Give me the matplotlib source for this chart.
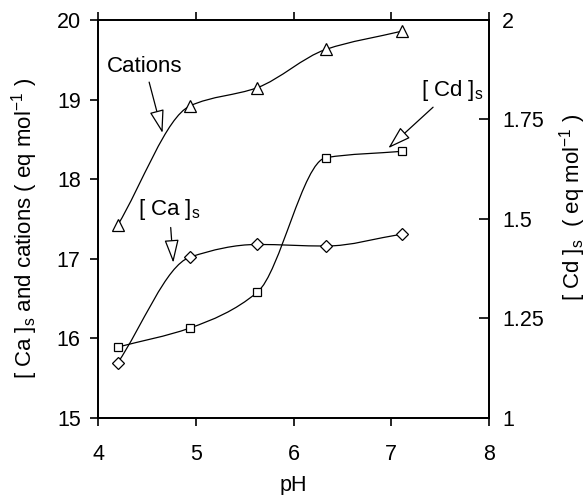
import numpy as np
import matplotlib
matplotlib.use('Agg')
import matplotlib.pyplot as plt
from matplotlib.path import Path
from matplotlib.patches import PathPatch

plt.rcParams['font.family'] = ['Liberation Sans', 'DejaVu Sans']
plt.rcParams['mathtext.fontset'] = 'custom'
plt.rcParams['mathtext.rm'] = 'Liberation Sans'

# values
ph = [4.2, 4.94, 5.63, 6.33, 7.11]
cations = [17.42, 18.92, 19.15, 19.63, 19.86]
ca_s = [15.69, 17.02, 17.18, 17.16, 17.31]
cd_s = [1.178, 1.226, 1.316, 1.654, 1.670]   # right axis

x_ticks = [4, 5, 6, 7, 8]
left_ticks = [15, 16, 17, 18, 19, 20]
right_ticks = [1, 1.25, 1.5, 1.75, 2]
right_labels = ['1', '1.25', '1.5', '1.75', '2']


def smooth_path(x, y):
    # monotone cubic (Fritsch-Carlson) drawn as bezier segments
    x = np.asarray(x, float)
    y = np.asarray(y, float)
    h = np.diff(x)
    d = np.diff(y) / h
    m = np.zeros_like(x)
    m[0], m[-1] = d[0], d[-1]
    for i in range(1, len(x) - 1):
        if d[i - 1] * d[i] <= 0:
            m[i] = 0
        else:
            w1 = 2 * h[i] + h[i - 1]
            w2 = h[i] + 2 * h[i - 1]
            m[i] = (w1 + w2) / (w1 / d[i - 1] + w2 / d[i])
    verts = [(x[0], y[0])]
    codes = [Path.MOVETO]
    for i in range(len(x) - 1):
        verts += [(x[i] + h[i] / 3, y[i] + m[i] * h[i] / 3),
                  (x[i + 1] - h[i] / 3, y[i + 1] - m[i + 1] * h[i] / 3),
                  (x[i + 1], y[i + 1])]
        codes += [Path.CURVE4] * 3
    return Path(verts, codes)


fs = 15.5
fig = plt.figure(figsize=(5.87, 4.95), dpi=100)
ax = fig.add_axes([0.167, 0.1556, 0.666, 0.804])
ax2 = ax.twinx()

for a in (ax, ax2):
    for s in a.spines.values():
        s.set_linewidth(1.3)

ax.add_patch(PathPatch(smooth_path(ph, cations), fc='none', ec='black', lw=0.9))
ax.add_patch(PathPatch(smooth_path(ph, ca_s), fc='none', ec='black', lw=0.9))
ax2.add_patch(PathPatch(smooth_path(ph, cd_s), fc='none', ec='black', lw=0.9))

ax.plot(ph, cations, ls='none', marker='^', ms=8, mfc='white', mec='black', mew=0.9, zorder=3)
ax.plot(ph, ca_s, ls='none', marker='D', ms=6.5, mfc='white', mec='black', mew=0.9, zorder=3)
ax2.plot(ph, cd_s, ls='none', marker='s', ms=5.5, mfc='white', mec='black', mew=0.9, zorder=3)

ax.set_xlim(4, 8)
ax.set_ylim(15, 20)
ax2.set_ylim(1, 2)
ax.set_xticks(x_ticks)
ax.set_yticks(left_ticks)
ax2.set_yticks(right_ticks)
ax2.set_yticklabels(right_labels)

ax.tick_params(axis='both', direction='out', length=5.5, width=1.2, labelsize=fs,
               top=True, labeltop=False)
ax.tick_params(axis='x', pad=13)
ax.tick_params(axis='y', pad=7)
ax2.tick_params(axis='y', direction='in', length=7.5, width=1.2, labelsize=fs, pad=9.5)

ax.set_xlabel('pH', fontsize=fs, labelpad=7.5)
ax.set_ylabel(r'[ Ca ]$_\mathregular{s}$ and cations ( eq mol$^{\mathregular{-1}}$ )',
              fontsize=16, va='center')
ax2.set_ylabel(r'[ Cd ]$_\mathregular{s}$  ( eq mol$^{\mathregular{-1}}$ )',
               fontsize=16, rotation=90, va='center')
ax.yaxis.set_label_coords(-0.189, 0.477)
ax2.yaxis.set_label_coords(1.214, 0.53)

arrow = dict(arrowstyle='-|>,head_length=0.9,head_width=0.28', fc='white', ec='black',
             lw=0.9, shrinkA=2, shrinkB=0)
ax.annotate('Cations', xy=(4.66, 18.58), xytext=(4.48, 19.42), fontsize=16,
            ha='center', va='center', arrowprops=arrow)
ax.annotate(r'[ Ca ]$_\mathregular{s}$', xy=(4.77, 16.95), xytext=(4.73, 17.62), fontsize=16,
            ha='center', va='center', arrowprops=arrow)
ax.annotate(r'[ Cd ]$_\mathregular{s}$', xy=(6.97, 18.39), xytext=(7.62, 19.12), fontsize=16,
            ha='center', va='center', arrowprops=arrow)

fig.savefig('out.png', dpi=100)
